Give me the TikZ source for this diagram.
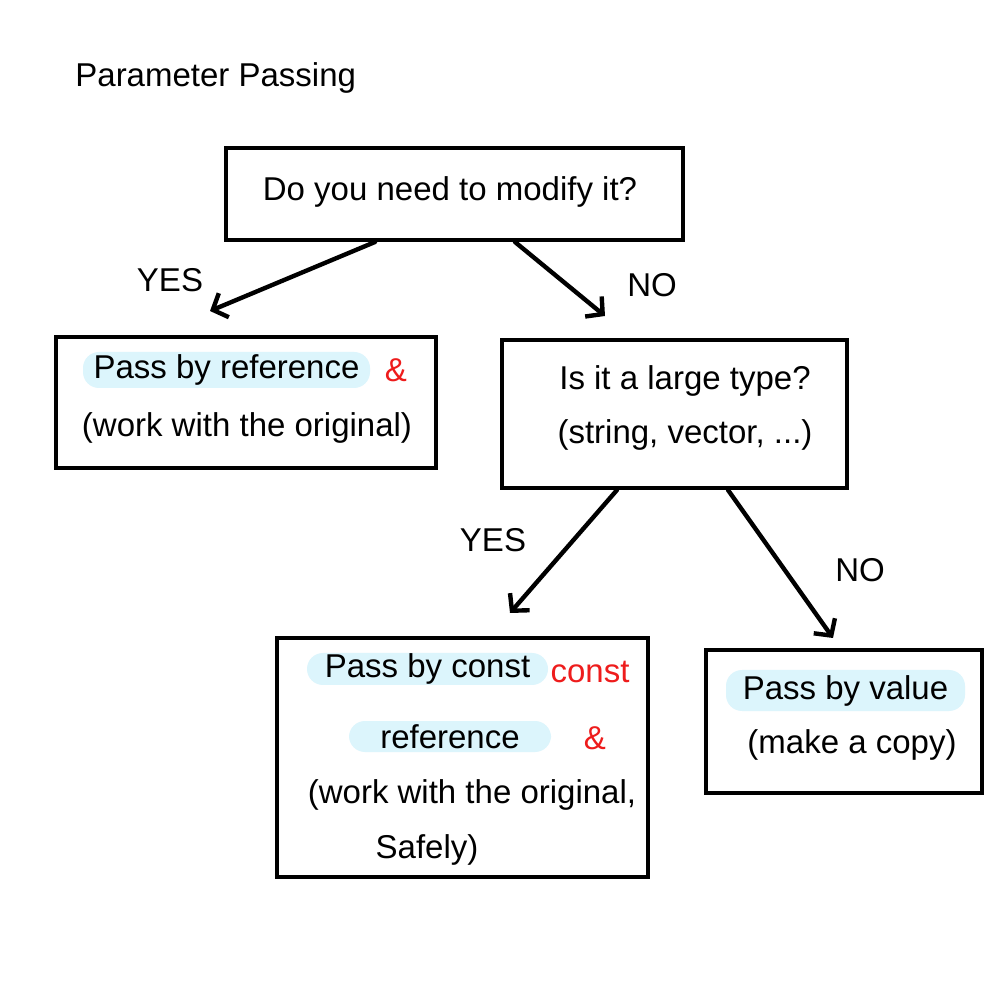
\documentclass[tikz,border=0pt]{standalone}
\usepackage{fontspec}
\setmainfont{Liberation Sans}
\usetikzlibrary{arrows.meta,calc}
\definecolor{hilite}{HTML}{DCF5FC}
\definecolor{redmark}{HTML}{EE1C1C}
\tikzset{
  box/.style={rectangle,draw=black,line width=2pt,inner sep=0pt},
  txt/.style={font=\fontsize{16.5}{19}\selectfont,inner sep=0pt},
  hl/.style={txt,fill=hilite,rounded corners=8pt},
  red/.style={txt,text=redmark},
  fl/.style={-{Straight Barb[length=6pt,width=13pt]},line width=2.2pt,line cap=round},
}

\begin{document}
\begin{tikzpicture}[x=0.5pt,y=-0.5pt]
  \useasboundingbox[fill=white] (0,0) rectangle (1003,1000);
  \node[txt,anchor=west] (title) at (75,78) {Parameter Passing};
  % boxes
  \node[box,minimum width=228.5pt,minimum height=46pt] (q1) at (454.5,194) {};
  \node[box,minimum width=190pt,minimum height=65.5pt] (ref) at (246,402.5) {};
  \node[box,minimum width=172.5pt,minimum height=74pt] (q2) at (674.5,414) {};
  \node[box,minimum width=185.5pt,minimum height=119.5pt] (cref) at (462.5,757.5) {};
  \node[box,minimum width=138pt,minimum height=71.5pt] (val) at (844,721.5) {};
  % texts
  \node[txt] (q1t) at (450,192) {Do you need to modify it?};
  \node[hl,minimum width=143.5pt,minimum height=18pt] (reft) at (226.5,370) {Pass by reference};
  \node[red] (refamp) at (396,370) {\&};
  \node[txt] (refn) at (247,428) {(work with the original)};
  \node[txt] (q2t) at (685,381) {Is it a large type?};
  \node[txt] (q2n) at (685,435) {(string, vector, ...)};
  \node[hl,minimum width=120.5pt,minimum height=16pt] (creft) at (427.5,669) {Pass by const};
  \node[red] (crefc) at (590,672) {const};
  \node[hl,minimum width=101pt,minimum height=15.5pt] (creft2) at (450,736.5) {reference};
  \node[red] (crefamp) at (595,738) {\&};
  \node[txt] (crefn) at (472,795) {(work with the original,};
  \node[txt] (crefn2) at (427,850) {Safely)};
  \node[hl,minimum width=119.5pt,minimum height=20.5pt] (valt) at (845.5,690.5) {Pass by value};
  \node[txt] (valn) at (852,745) {(make a copy)};
  % arrows
  \draw[fl] ([shift={(-79.5,0)}]q1.south) -- ([shift={(-36,-24)}]ref.north);
  \draw[fl] ([shift={(60.5,0)}]q1.south) -- ([shift={(-69.5,-22)}]q2.north);
  \draw[fl] ([shift={(-57.5,0)}]q2.south) -- ([shift={(47.5,-23)}]cref.north);
  \draw[fl] ([shift={(53.5,0)}]q2.south) -- ([shift={(-11,-10)}]val.north);
  \node[txt] (y1) at (170,280) {YES};
  \node[txt] (n1) at (652,285) {NO};
  \node[txt] (y2) at (493,540) {YES};
  \node[txt] (n2) at (860,570) {NO};
\end{tikzpicture}
\end{document}
